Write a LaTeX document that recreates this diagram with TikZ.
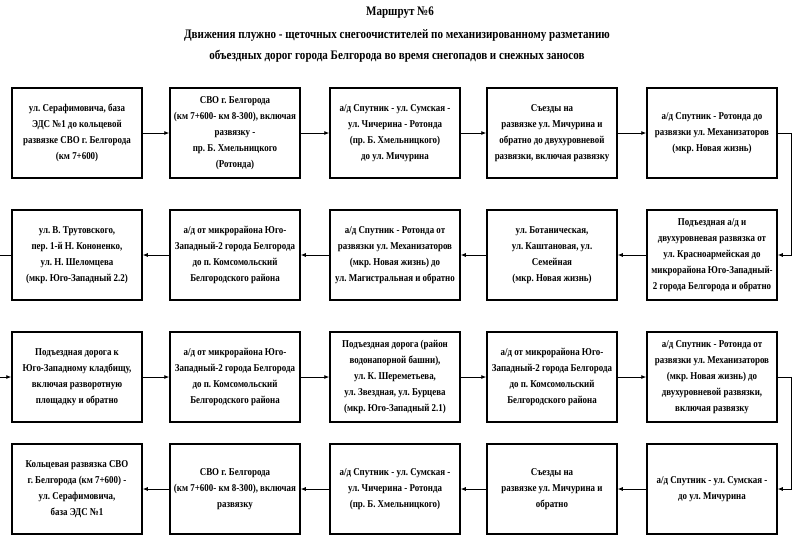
\documentclass[tikz,border=0pt]{standalone}
\usepackage{fontspec}
\setmainfont{Liberation Serif}[FakeStretch=0.85]
\frenchspacing
\usetikzlibrary{arrows.meta}
\begin{document}
\begin{tikzpicture}[x=1pt,y=-1pt,
  box/.style={draw, line width=1.5pt, minimum width=130pt, minimum height=90pt,
    align=center, inner sep=1pt, font=\fontsize{10.5}{16}\selectfont\bfseries\frenchspacing},
  arr/.style={-{Latex[length=5pt,width=4pt]}, line width=0.8pt},
  ttl/.style={font=\fontsize{13}{16}\selectfont\bfseries\frenchspacing, inner sep=0pt}]
\useasboundingbox (0,0) rectangle (800,558);
% titles
\node[ttl] (t1) at (400,13) {Маршрут №6};
\node[ttl] (t2) at (397,35) {Движения плужно - щеточных снегоочистителей по механизированному разметанию};
\node[ttl] (t3) at (397,56) {объездных дорог города Белгорода во время снегопадов и снежных заносов};
% row 1
\node[box] (a1) at (77,133) {ул. Серафимовича, база\\ЭДС №1 до кольцевой\\развязке СВО г. Белгорода\\(км 7+600)};
\node[box] (a2) at (235,133) {СВО г. Белгорода\\(км 7+600- км 8-300), включая\\развязку -\\пр. Б. Хмельницкого\\(Ротонда)};
\node[box] (a3) at (395,133) {а/д Спутник - ул. Сумская -\\ул. Чичерина - Ротонда\\(пр. Б. Хмельницкого)\\до ул. Мичурина};
\node[box] (a4) at (552,133) {Съезды на\\развязке ул. Мичурина и\\обратно до двухуровневой\\развязки, включая развязку};
\node[box] (a5) at (712,133) {а/д Спутник - Ротонда до\\развязки ул. Механизаторов\\(мкр. Новая жизнь)};
% row 2
\node[box] (b1) at (77,255) {ул. В. Трутовского,\\пер. 1-й Н. Кононенко,\\ул. Н. Шеломцева\\(мкр. Юго-Западный 2.2)};
\node[box] (b2) at (235,255) {а/д от микрорайона Юго-\\Западный-2 города Белгорода\\до п. Комсомольский\\Белгородского района};
\node[box] (b3) at (395,255) {а/д Спутник - Ротонда от\\развязки ул. Механизаторов\\(мкр. Новая жизнь) до\\ул. Магистральная и обратно};
\node[box] (b4) at (552,255) {ул. Ботаническая,\\ул. Каштановая, ул.\\Семейная\\(мкр. Новая жизнь)};
\node[box] (b5) at (712,255) {Подъездная а/д и\\двухуровневая развязка от\\ул. Красноармейская до\\микрорайона Юго-Западный-\\2 города Белгорода и обратно};
% row 3
\node[box] (c1) at (77,377) {Подъездная дорога к\\Юго-Западному кладбищу,\\включая разворотную\\площадку и обратно};
\node[box] (c2) at (235,377) {а/д от микрорайона Юго-\\Западный-2 города Белгорода\\до п. Комсомольский\\Белгородского района};
\node[box] (c3) at (395,377) {Подъездная дорога (район\\водонапорной башни),\\ул. К. Шереметьева,\\ул. Звездная, ул. Бурцева\\(мкр. Юго-Западный 2.1)};
\node[box] (c4) at (552,377) {а/д от микрорайона Юго-\\Западный-2 города Белгорода\\до п. Комсомольский\\Белгородского района};
\node[box] (c5) at (712,377) {а/д Спутник - Ротонда от\\развязки ул. Механизаторов\\(мкр. Новая жизнь) до\\двухуровневой развязки,\\включая развязку};
% row 4
\node[box] (d1) at (77,489) {Кольцевая развязка СВО\\г. Белгорода (км 7+600) -\\ул. Серафимовича,\\база ЭДС №1};
\node[box] (d2) at (235,489) {СВО г. Белгорода\\(км 7+600- км 8-300), включая\\развязку};
\node[box] (d3) at (395,489) {а/д Спутник - ул. Сумская -\\ул. Чичерина - Ротонда\\(пр. Б. Хмельницкого)};
\node[box] (d4) at (552,489) {Съезды на\\развязке ул. Мичурина и\\обратно};
\node[box] (d5) at (712,489) {а/д Спутник - ул. Сумская -\\до ул. Мичурина};
% connectors
\draw[arr] (a1) -- (a2);
\draw[arr] (a2) -- (a3);
\draw[arr] (a3) -- (a4);
\draw[arr] (a4) -- (a5);
\draw[arr] (a5.east) -- ++(14,0) |- (b5.east);
\draw[arr] (b5) -- (b4);
\draw[arr] (b4) -- (b3);
\draw[arr] (b3) -- (b2);
\draw[arr] (b2) -- (b1);
\coordinate (L2) at (0,255);
\coordinate (L3) at (0,377);
\draw[line width=0.8pt] (b1.west) -- (L2);
\draw[arr] (L3) -- (c1.west);
\draw[arr] (c1) -- (c2);
\draw[arr] (c2) -- (c3);
\draw[arr] (c3) -- (c4);
\draw[arr] (c4) -- (c5);
\draw[arr] (c5.east) -- ++(14,0) |- (d5.east);
\draw[arr] (d5) -- (d4);
\draw[arr] (d4) -- (d3);
\draw[arr] (d3) -- (d2);
\draw[arr] (d2) -- (d1);
\end{tikzpicture}
\end{document}
